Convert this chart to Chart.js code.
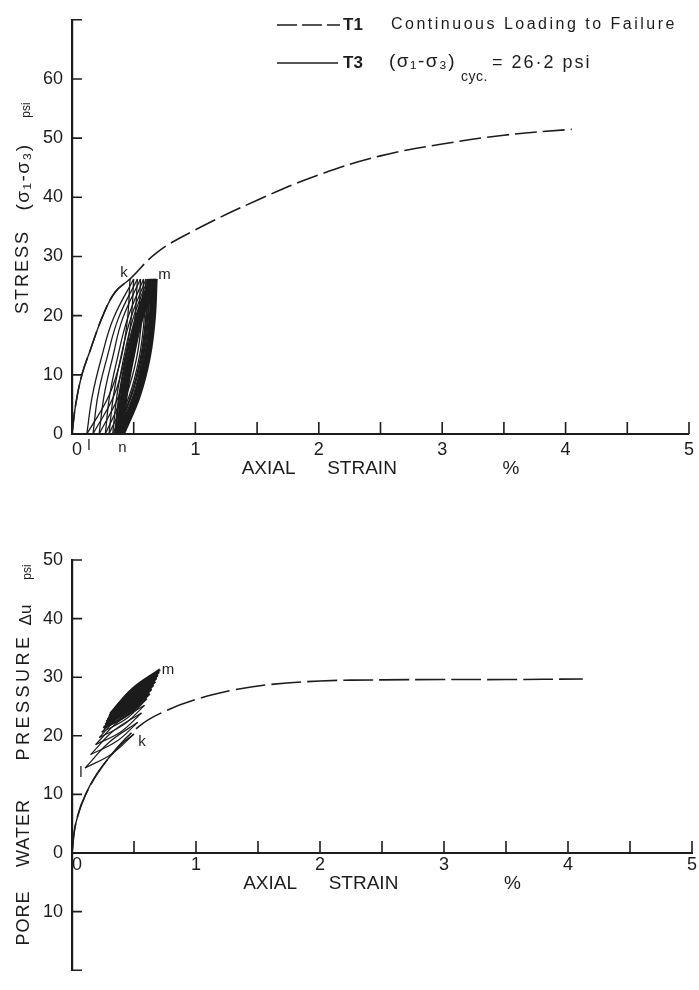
<!DOCTYPE html>
<html>
<head>
<meta charset="utf-8">
<script src="https://cdn.jsdelivr.net/npm/chart.js@4"></script>
<style>
  body { margin: 0; background: #fff; }
  #wrap { position: relative; width: 699px; height: 990px; }
  canvas { position: absolute; left: 0; }
</style>
</head>
<body>
<div id="wrap">
  <canvas id="stressChart" width="699" height="490" style="top:0"></canvas>
  <canvas id="pwpChart" width="699" height="500" style="top:490px"></canvas>
</div>
<script>
// axis ranges / ticks
const strainRange = [0, 5];
const stressRange = [0, 70];
const pwpRange = [-20, 50];

// T1 continuous loading, stress vs strain (%)
const stressT1 = [[0,0],[0.03,5],[0.08,10],[0.145,14],[0.25,20],[0.35,24],[0.47,26.2],[0.69,30.7],[1.0,34.5],[1.5,39.5],[2.0,43.8],[2.5,47],[3.0,49],[3.5,50.5],[4.05,51.5]];
// T3 first loading up to k
const stressFirstLoad = [[0,0],[0.03,5],[0.08,10],[0.145,14],[0.25,20],[0.35,24],[0.47,26.2]];
// T3 cycles: unload / reload branches in turn
const stressArcs = [
  [[0.47,26.2],[0.45,19.5],[0.40,13],[0.30,6.5],[0.12,0]],
  [[0.12,0],[0.165,6.5],[0.24,13],[0.335,19.5],[0.50,26.2]],
  [[0.50,26.2],[0.48,19.5],[0.43,13],[0.34,6.5],[0.17,0]],
  [[0.17,0],[0.21,6.5],[0.285,13],[0.375,19.5],[0.53,26.2]],
  [[0.53,26.2],[0.51,19.5],[0.47,13],[0.38,6.5],[0.22,0]],
  [[0.22,0],[0.26,6.5],[0.33,13],[0.41,19.5],[0.555,26.2]],
  [[0.555,26.2],[0.54,19.5],[0.50,13],[0.41,6.5],[0.27,0]],
  [[0.27,0],[0.305,6.5],[0.37,13],[0.45,19.5],[0.58,26.2]],
  [[0.58,26.2],[0.565,19.5],[0.525,13],[0.44,6.5],[0.30,0]],
  [[0.30,0],[0.336,6.5],[0.396,13],[0.475,19.5],[0.60,26.2]],
  [[0.60,26.2],[0.585,19.5],[0.545,13],[0.465,6.5],[0.33,0]],
  [[0.33,0],[0.364,6.5],[0.42,13],[0.495,19.5],[0.615,26.2]],
  [[0.615,26.2],[0.60,19.5],[0.56,13],[0.48,6.5],[0.35,0]],
  [[0.35,0],[0.384,6.5],[0.44,13],[0.515,19.5],[0.63,26.2]],
  [[0.63,26.2],[0.615,19.5],[0.575,13],[0.50,6.5],[0.365,0]],
  [[0.365,0],[0.40,6.5],[0.455,13],[0.53,19.5],[0.645,26.2]],
  [[0.645,26.2],[0.63,19.5],[0.59,13],[0.51,6.5],[0.38,0]],
  [[0.38,0],[0.413,6.5],[0.468,13],[0.54,19.5],[0.655,26.2]],
  [[0.655,26.2],[0.64,19.5],[0.60,13],[0.52,6.5],[0.39,0]],
  [[0.39,0],[0.423,6.5],[0.478,13],[0.55,19.5],[0.665,26.2]],
  [[0.665,26.2],[0.65,19.5],[0.61,13],[0.53,6.5],[0.40,0]],
  [[0.40,0],[0.433,6.5],[0.488,13],[0.56,19.5],[0.675,26.2]],
  [[0.675,26.2],[0.66,19.5],[0.62,13],[0.54,6.5],[0.41,0]],
  [[0.41,0],[0.443,6.5],[0.498,13],[0.57,19.5],[0.685,26.2]],
  [[0.685,26.2],[0.67,19.5],[0.63,13],[0.55,6.5],[0.42,0]]
];

// pore water pressure (psi) vs strain (%)
const pwpT1 = [[0,0],[0.03,5],[0.11,10],[0.3,16.3],[0.54,21.6],[0.75,24.2],[1.03,26.4],[1.3,27.8],[1.57,28.7],[2.0,29.35],[2.5,29.55],[3.0,29.6],[3.5,29.6],[4.12,29.7]];
const pwpFirstLoad = [[0,0],[0.03,5],[0.11,10],[0.2,13.5],[0.3,16.3],[0.4,18.6],[0.5,20.3]];
const pwpArcs = [
  [[0.50,20.3],[0.32,16.9],[0.105,14.5]],
  [[0.105,14.5],[0.30,18.9],[0.53,22.3]],
  [[0.53,22.3],[0.36,19.05],[0.15,16.8]],
  [[0.15,16.8],[0.335,20.85],[0.56,23.9]],
  [[0.56,23.9],[0.395,20.7],[0.19,18.5]],
  [[0.19,18.5],[0.37,22.35],[0.585,25.2]],
  [[0.585,25.2],[0.42,21.95],[0.22,19.7]],
  [[0.22,19.7],[0.39,23.5],[0.605,26.3]],
  [[0.605,26.3],[0.44,22.95],[0.24,20.6]],
  [[0.24,20.6],[0.41,24.4],[0.625,27.2]],
  [[0.625,27.2],[0.46,23.75],[0.255,21.3]],
  [[0.255,21.3],[0.43,25.15],[0.64,28.0]],
  [[0.64,28.0],[0.475,24.45],[0.27,21.9]],
  [[0.27,21.9],[0.44,25.8],[0.655,28.7]],
  [[0.655,28.7],[0.49,25.05],[0.28,22.4]],
  [[0.28,22.4],[0.455,26.35],[0.67,29.3]],
  [[0.67,29.3],[0.50,25.55],[0.29,22.8]],
  [[0.29,22.8],[0.465,26.85],[0.68,29.9]],
  [[0.68,29.9],[0.51,26.05],[0.30,23.2]],
  [[0.30,23.2],[0.475,27.3],[0.69,30.4]],
  [[0.69,30.4],[0.52,26.45],[0.305,23.5]],
  [[0.305,23.5],[0.48,27.7],[0.70,30.9]],
  [[0.70,30.9],[0.525,26.85],[0.31,23.8]],
  [[0.31,23.8],[0.49,28.05],[0.71,31.3]]
];

// point letters on the curves
const stressMarks = [['k', 0.47, 26.2], ['m', 0.685, 26.2], ['l', 0.12, 0], ['n', 0.40, 0]];
const pwpMarks = [['m', 0.71, 31.3], ['k', 0.50, 20.3], ['l', 0.105, 14.5]];

const INK = '#1c1c1c';
const FONT = "'Liberation Sans', Arial, sans-serif";
Chart.defaults.font.family = FONT;
Chart.defaults.color = INK;

function lineSet(points, width, dash) {
    return {
        data: points.map(([x, y]) => ({ x, y })),
        showLine: true,
        borderColor: INK,
        borderWidth: width,
        borderDash: dash || [],
        pointRadius: 0,
        tension: 0.4,
        fill: false
    };
}

function strainLabel(v) {
    if (v === 0) return '  0';
    return Number.isInteger(v) ? String(v) : '';
}

// tick marks drawn inward, letters, rotated axis titles, legend
function decor(cfg) {
    return {
        id: 'decor',
        afterDraw(chart) {
            const { ctx, scales: { x, y } } = chart;
            const axisY = y.getPixelForValue(0);
            const axisX = x.getPixelForValue(0);
            ctx.save();
            ctx.strokeStyle = INK;
            ctx.lineWidth = 1.6;
            ctx.beginPath();
            x.ticks.forEach(t => {
                if (t.value === 0) return;
                const px = x.getPixelForValue(t.value);
                ctx.moveTo(px, axisY);
                ctx.lineTo(px, axisY - 12);
            });
            y.ticks.forEach(t => {
                if (t.value === 0) return;
                const py = y.getPixelForValue(t.value);
                ctx.moveTo(axisX, py);
                ctx.lineTo(axisX + 10, py);
            });
            ctx.stroke();

            ctx.fillStyle = INK;
            ctx.textAlign = 'center';
            ctx.textBaseline = 'middle';
            ctx.font = '15px ' + FONT;
            cfg.marks.forEach(([txt, sx, sy], i) => {
                const [dx, dy] = cfg.markOffsets[i];
                ctx.fillText(txt, x.getPixelForValue(sx) + dx, y.getPixelForValue(sy) + dy);
            });

            cfg.titles.forEach(t => {
                ctx.save();
                ctx.translate(t.x, t.y);
                ctx.rotate(-Math.PI / 2);
                ctx.font = t.size + 'px ' + FONT;
                ctx.letterSpacing = (t.ls || 0) + 'px';
                ctx.fillText(t.text, 0, 0);
                ctx.restore();
            });

            if (cfg.legend) {
                ctx.textAlign = 'left';
                ctx.lineWidth = 1.6;
                ctx.setLineDash([20, 5]);
                ctx.beginPath(); ctx.moveTo(277, 25); ctx.lineTo(340, 25); ctx.stroke();
                ctx.setLineDash([]);
                ctx.beginPath(); ctx.moveTo(277, 63); ctx.lineTo(338, 63); ctx.stroke();
                ctx.font = 'bold 17px ' + FONT;
                ctx.fillText('T1', 343, 25);
                ctx.fillText('T3', 343, 63);
                ctx.font = '19px ' + FONT;
                ctx.letterSpacing = '1.5px';
                ctx.fillText('(σ₁-σ₃)', 389, 62);
                ctx.font = '16px ' + FONT;
                ctx.letterSpacing = '2.5px';
                ctx.fillText('Continuous Loading to Failure', 391, 25);
                ctx.font = '18px ' + FONT;
                ctx.letterSpacing = '2px';
                ctx.fillText('= 26·2 psi', 492, 63);
                ctx.font = '14px ' + FONT;
                ctx.letterSpacing = '0.5px';
                ctx.fillText('cyc.', 461, 77);
            }
            ctx.restore();
        }
    };
}

function axisOptions(opts) {
    return {
        x: {
            type: 'linear',
            min: strainRange[0],
            max: strainRange[1],
            position: opts.xPosition,
            afterFit: s => { s.height = opts.xHeight; },
            border: { color: INK, width: 2 },
            grid: { display: false, drawTicks: false },
            ticks: { stepSize: 0.5, padding: opts.xPad, autoSkip: false, maxRotation: 0, font: { size: 18 }, callback: strainLabel },
            title: { display: true, text: 'AXIAL      STRAIN                    %', font: { size: 19 }, padding: { top: 0, bottom: opts.titlePad } }
        },
        y: {
            type: 'linear',
            min: opts.yRange[0],
            max: opts.yRange[1],
            afterFit: s => { s.width = 72; },
            border: { color: INK, width: 2.2 },
            grid: { display: false, drawTicks: false },
            ticks: { stepSize: 10, padding: 9, autoSkip: false, font: { size: 18 }, callback: opts.yLabel }
        }
    };
}

const common = {
    responsive: false,
    animation: false,
    events: [],
    plugins: { legend: { display: false }, tooltip: { enabled: false } }
};

// upper chart: stress
new Chart(document.getElementById('stressChart').getContext('2d'), {
    type: 'scatter',
    data: {
        datasets: [
            lineSet(stressT1, 1.6, [22, 6]),
            lineSet(stressFirstLoad, 1.4),
            ...stressArcs.map((arc, i) => lineSet(arc, i < 12 ? 1.3 : 2.3))
        ]
    },
    options: {
        ...common,
        layout: { padding: { top: 10, right: 7, bottom: 0, left: 0 } },
        scales: axisOptions({
            xPosition: 'bottom', xHeight: 56, xPad: 5, titlePad: 10,
            yRange: stressRange,
            yLabel: v => (v === 70 ? '' : String(v))
        })
    },
    plugins: [decor({
        marks: stressMarks,
        markOffsets: [[-6, -6], [8, -4], [2, 12], [1, 14]],
        titles: [
            { text: 'psi', x: 27, y: 110, size: 12 },
            { text: '(σ₁-σ₃)', x: 24, y: 177, size: 19, ls: 1.5 },
            { text: 'STRESS', x: 23, y: 272, size: 18, ls: 2 }
        ],
        legend: true
    })]
});

// lower chart: pore water pressure
new Chart(document.getElementById('pwpChart').getContext('2d'), {
    type: 'scatter',
    data: {
        datasets: [
            lineSet(pwpT1, 1.6, [30, 6]),
            lineSet(pwpFirstLoad, 1.4),
            ...pwpArcs.map((arc, i) => lineSet(arc, i < 10 ? 1.2 : 2.6))
        ]
    },
    options: {
        ...common,
        layout: { padding: { top: 70, right: 7, bottom: 3, left: 0 } },
        scales: axisOptions({
            xPosition: { y: 0 }, xHeight: 50, xPad: 1, titlePad: 8,
            yRange: pwpRange,
            yLabel: v => (v === -20 ? '' : String(Math.abs(v)))
        })
    },
    plugins: [decor({
        marks: pwpMarks,
        markOffsets: [[8, 0], [8, 8], [-4, 5]],
        titles: [
            { text: 'psi', x: 28, y: 82, size: 12 },
            { text: 'Δu', x: 26, y: 125, size: 17 },
            { text: 'PRESSURE', x: 24, y: 207, size: 18, ls: 3.5 },
            { text: 'WATER', x: 24, y: 343, size: 18, ls: 1 },
            { text: 'PORE', x: 24, y: 428, size: 18, ls: 1 }
        ],
        legend: false
    })]
});
</script>
</body>
</html>
